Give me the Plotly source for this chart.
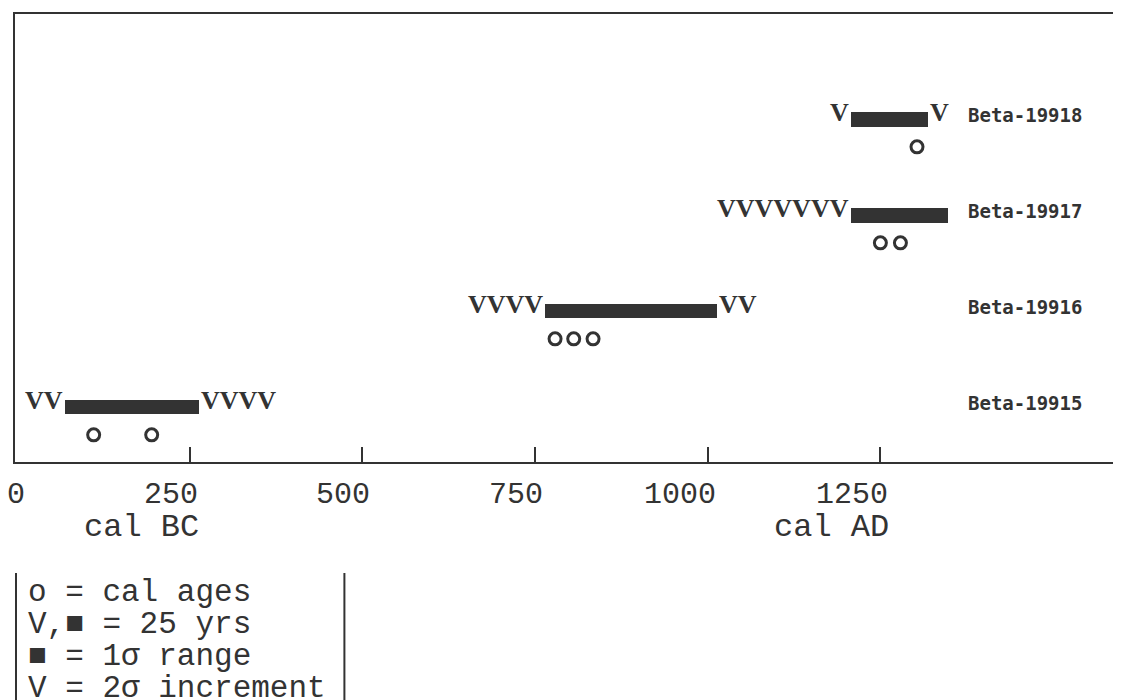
import plotly.graph_objects as go

# ---------------- data ----------------
samples = ["Beta-19915", "Beta-19916", "Beta-19917", "Beta-19918"]
sigma1_start = [69, 764, 1208, 1208]
sigma1_end = [264, 1013, 1348, 1319]
v_left = [2, 4, 7, 1]      # 2-sigma increments (25 yrs each) left of 1-sigma range
v_right = [4, 2, 0, 1]     # 2-sigma increments right of 1-sigma range
cal_ages = [[111, 195], [779, 806, 834], [1250, 1279], [1303]]

tick_vals = [250, 500, 750, 1000, 1250]
label_vals = [0, 250, 500, 750, 1000, 1250]
label_text = ["0", "250", "500", "750", "1000", "1250"]
era_vals = [250, 1250]
era_text = ["cal BC", "cal AD"]

legend_lines = ["o = cal ages", "V,\u25a0 = 25 yrs", "\u25a0 = 1\u03c3 range", "V = 2\u03c3 increment"]

# ---------------- layout geometry ----------------
OFF = 8                      # page body margin of the html page
W, H = 1121 - OFF, 700 - OFF
L, R, T = 15 - OFF, 1, 14 - OFF
PLOT_BOTTOM = 462 - OFF
B = H - PLOT_BOTTOM
PW, PH = W - L - R, PLOT_BOTTOM - T
INK = "#333333"
MONO = "Liberation Mono, Courier New, DejaVu Sans Mono, monospace"
SERIF = "Liberation Serif, Times New Roman, serif"
LABEL = "DejaVu Sans Mono, monospace"

def px(xp):
    return (xp - OFF - L) / PW

def py(yp):
    return (PLOT_BOTTOM - (yp - OFF)) / PH

rows = list(range(len(samples)))
bar_h = 0.156
age_off = 0.29

fig = go.Figure()

# 1-sigma bars
fig.add_trace(go.Bar(
    y=rows,
    x=[e - s for s, e in zip(sigma1_start, sigma1_end)],
    base=sigma1_start,
    orientation="h",
    width=bar_h,
    marker=dict(color=INK, line=dict(width=0)),
    hoverinfo="skip",
    showlegend=False,
))

# cal ages (open circles)
ax, ay = [], []
for r, ages in zip(rows, cal_ages):
    for a in ages:
        ax.append(a)
        ay.append(r - age_off)
fig.add_trace(go.Scatter(
    x=ax, y=ay, mode="markers",
    marker=dict(symbol="circle-open", size=12, color=INK, line=dict(width=3, color=INK)),
    hoverinfo="skip", showlegend=False,
))

ann = []
vfont = dict(family=SERIF, size=26, color=INK, weight="bold")
# V increments
for r in rows:
    if v_left[r]:
        ann.append(dict(x=sigma1_start[r], y=r, xref="x", yref="y", text="V" * v_left[r],
                        xanchor="right", yanchor="middle", yshift=7, showarrow=False,
                        font=vfont))
    if v_right[r]:
        ann.append(dict(x=sigma1_end[r], y=r, xref="x", yref="y", text="V" * v_right[r],
                        xanchor="left", yanchor="middle", yshift=7, showarrow=False,
                        font=vfont))
    ann.append(dict(x=px(968), y=r, xref="paper", yref="y", text=samples[r],
                    xanchor="left", yanchor="middle", yshift=4, showarrow=False,
                    font=dict(family=LABEL, size=19, color=INK, weight="bold")))

# tick labels (right-aligned near ticks)
for v, t in zip(label_vals, label_text):
    ann.append(dict(x=v, y=py(495), xref="x", yref="paper", text=t,
                    xanchor="right", yanchor="middle", xshift=10, showarrow=False,
                    font=dict(family=MONO, size=30, color=INK)))
for v, t in zip(era_vals, era_text):
    ann.append(dict(x=v, y=py(527), xref="x", yref="paper", text=t,
                    xanchor="right", yanchor="middle", xshift=11, showarrow=False,
                    font=dict(family=MONO, size=32, color=INK)))

# legend box text
for i, t in enumerate(legend_lines):
    ann.append(dict(x=px(26), y=py(592 + 32 * i), xref="paper", yref="paper", text=t,
                    xanchor="left", yanchor="middle", showarrow=False,
                    font=dict(family=MONO, size=31, color=INK)))

shapes = [
    dict(type="line", xref="paper", yref="paper", x0=px(16), x1=px(16), y0=py(573), y1=py(702),
         line=dict(color=INK, width=2)),
    dict(type="line", xref="paper", yref="paper", x0=px(345), x1=px(345), y0=py(573), y1=py(702),
         line=dict(color=INK, width=2)),
]

fig.update_layout(
    width=W, height=H,
    margin=dict(l=L, r=R, t=T, b=B, pad=0),
    paper_bgcolor="white", plot_bgcolor="white",
    annotations=ann, shapes=shapes,
    bargap=0,
)
fig.update_xaxes(
    range=[-2.9, 1594], showgrid=False, zeroline=False,
    tickvals=tick_vals, ticks="inside", ticklen=15, tickwidth=2, tickcolor=INK,
    showticklabels=False, showline=True, linecolor=INK, linewidth=2, mirror=True,
)
fig.update_yaxes(
    range=[-0.573, 4.094], showgrid=False, zeroline=False, showticklabels=False,
    ticks="", showline=True, linecolor=INK, linewidth=2, mirror=True,
)

fig.write_html("out.html")
